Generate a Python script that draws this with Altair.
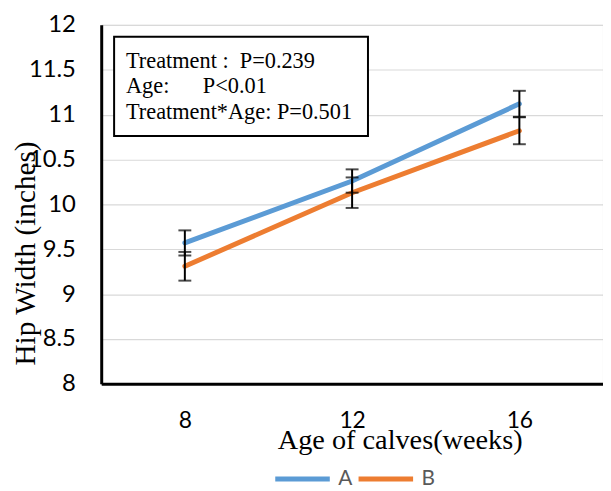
import altair as alt
import pandas as pd

ages = ["8", "12", "16"]
groups = ["A", "B"]
means_a = [9.57, 10.26, 11.12]
means_b = [9.31, 10.13, 10.82]
err_a = [0.14, 0.13, 0.145]
err_b = [0.16, 0.17, 0.15]
colors = ["#5B9BD5", "#ED7D31"]
stats_lines = [
    "Treatment :\u00a0\u00a0P=0.239",
    "Age:\u00a0\u00a0\u00a0\u00a0\u00a0\u00a0P<0.01",
    "Treatment*Age: P=0.501",
]

rows = []
for g, m, e in [("A", means_a, err_a), ("B", means_b, err_b)]:
    for age, mv, ev in zip(ages, m, e):
        rows.append({"age": age, "group": g, "value": mv,
                     "lo": mv - ev, "hi": mv + ev})
df = pd.DataFrame(rows)
txt = pd.DataFrame({"line": stats_lines, "i": [0, 1, 2]})

W, H = 506, 362

xenc = alt.X("age:O", sort=ages,
             scale=alt.Scale(type="point", padding=0.5),
             axis=alt.Axis(title="Age of calves(weeks)", labelAngle=0,
                           ticks=False, domain=True, domainColor="black",
                           domainWidth=3, grid=False,
                           labelFont="Lato", labelFontSize=23,
                           labelColor="black", labelPadding=26,
                           titleFont="Liberation Serif", titleFontSize=28.5,
                           titleFontWeight="normal", titleColor="black",
                           titleX=301, titleY=56, titleBaseline="middle"))
ysc = alt.Scale(domain=[8, 12], nice=False, zero=False)
yenc = alt.Y("value:Q", scale=ysc,
             axis=alt.Axis(title="Hip Width (inches)", values=[8, 8.5, 9, 9.5, 10, 10.5, 11, 11.5, 12],
                           format="~g",
                           ticks=False, domain=True, domainColor="black",
                           domainWidth=3, grid=True, gridColor="#D9D9D9",
                           gridWidth=1.2,
                           labelFont="Lato", labelFontSize=24,
                           labelColor="black", labelPadding=26,
                           titleFont="Liberation Serif", titleFontSize=29.5,
                           titleFontWeight="normal", titleColor="black",
                           titleX=-76, titleY=230, titleAngle=270,
                           titleBaseline="middle", titleAlign="center"))

lines = alt.Chart(df).mark_line(strokeWidth=5, strokeCap="round").encode(
    x=xenc, y=yenc,
    color=alt.Color("group:N", scale=alt.Scale(domain=groups, range=colors),
                    legend=alt.Legend(title=None, orient="none", direction="horizontal",
                                      legendX=173, legendY=428,
                                      symbolType="stroke", symbolSize=3025,
                                      symbolStrokeWidth=5, labelFont="Lato",
                                      labelFontSize=21, labelColor="#595959",
                                      labelOffset=6, columnPadding=-5, padding=0)),
)

base_err = alt.Chart(df).encode(x=alt.X("age:O", sort=ages))
err_rule = base_err.mark_rule(color="black", strokeWidth=2).encode(
    y=alt.Y("lo:Q", scale=ysc), y2="hi:Q")
err_lo = base_err.mark_tick(color="black", thickness=2, size=13, orient="horizontal").encode(
    y=alt.Y("lo:Q", scale=ysc))
err_hi = base_err.mark_tick(color="black", thickness=2, size=13, orient="horizontal").encode(
    y=alt.Y("hi:Q", scale=ysc))

box = alt.Chart(pd.DataFrame({"k": [0]})).mark_rect(
    fill="white", stroke="black", strokeWidth=2).encode(
    x=alt.value(13), x2=alt.value(269), y=alt.value(12), y2=alt.value(112))

texts = alt.Chart(txt).mark_text(
    font="Liberation Serif", fontSize=22.5, color="black", align="left",
    baseline="alphabetic").encode(
    x=alt.value(25),
    y=alt.Y("i:O", scale=alt.Scale(type="point", range=[43, 94.5], padding=0), axis=None),
    text="line:N",
)

chart = alt.layer(lines, err_rule, err_lo, err_hi, box, texts).resolve_scale(y="independent").properties(
    width=W, height=H,
    autosize=alt.AutoSizeParams(type="none"),
    padding={"left": 94, "top": 15, "right": 0, "bottom": 100},
).configure_view(stroke=None).configure(background="white")

chart.save("out.html", embed_options={"renderer": "svg", "actions": False})
